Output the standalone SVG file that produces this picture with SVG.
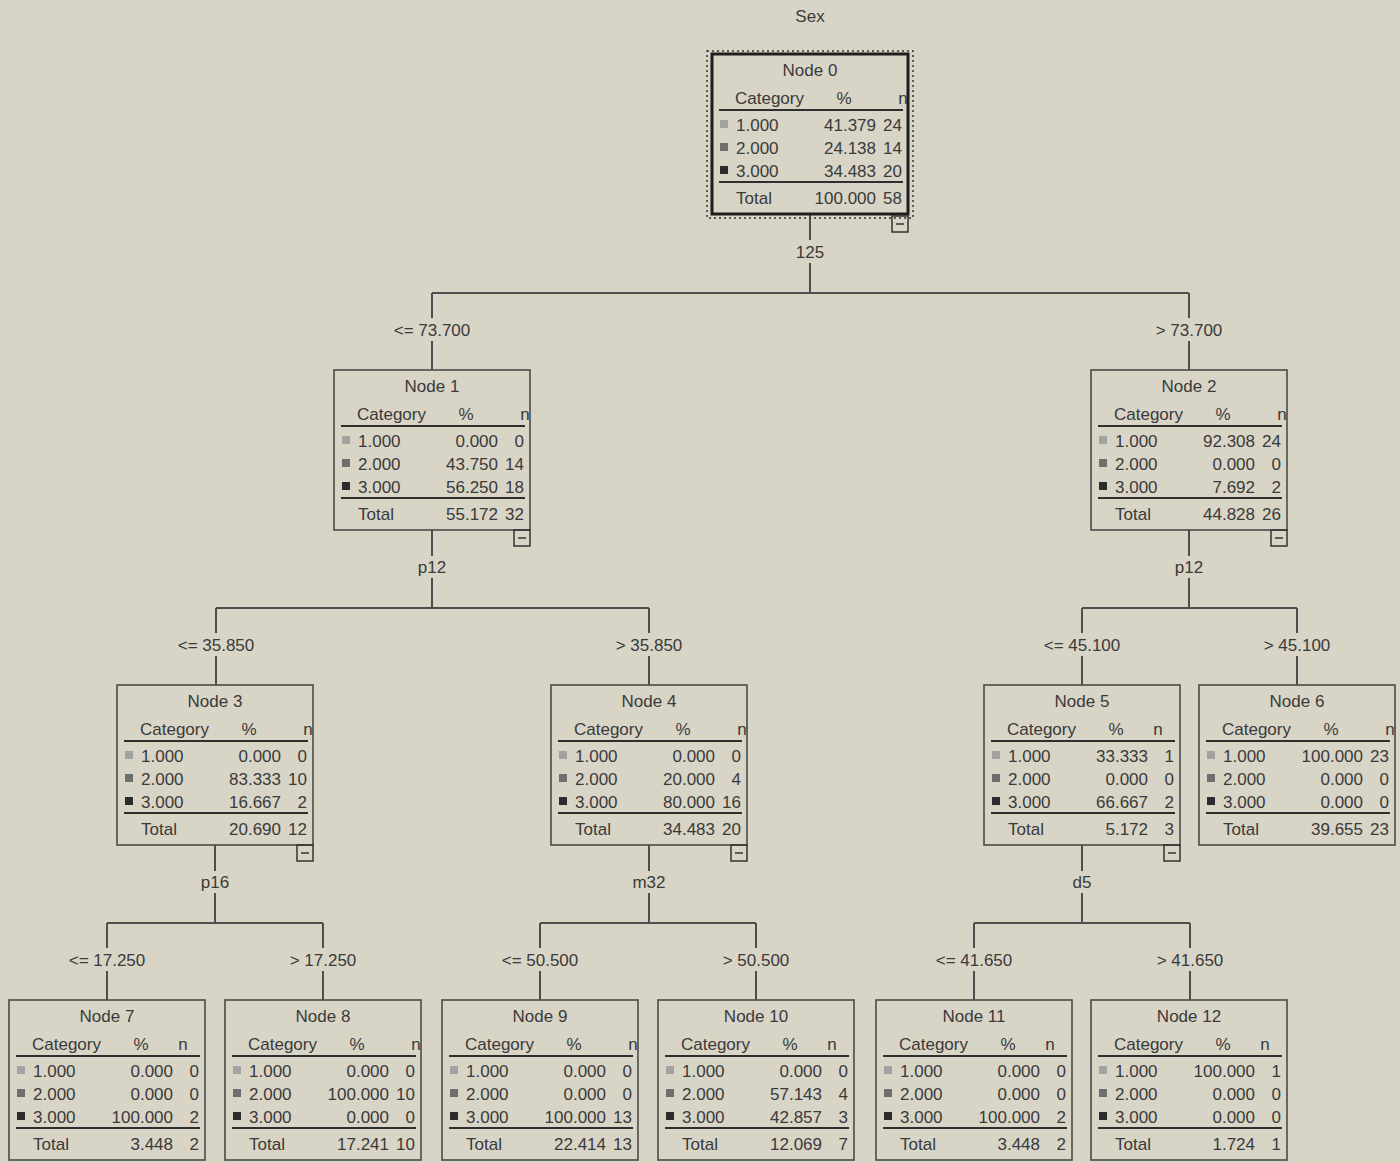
<svg xmlns="http://www.w3.org/2000/svg" width="1400" height="1163" viewBox="0 0 1400 1163">
<style>
.bg{fill:#d8d4c6}
.t{font-family:"Liberation Sans",Arial,sans-serif;font-size:17px;fill:#3a3a3a}
.m{text-anchor:middle}
.e{text-anchor:end}
.box{fill:none;stroke:#4a4a4a;stroke-width:1.6}
.box0{fill:none;stroke:#1e1e1e;stroke-width:3}
.sel{fill:none;stroke:#333;stroke-width:1.5;stroke-dasharray:2 3}
.hl{stroke:#2e2e2e;stroke-width:2}
.c1{fill:#a2a2a2}
.c2{fill:#6e6e6e}
.c3{fill:#2c2c2c}
.edge{stroke:#4e4e4e;stroke-width:2;fill:none}
.tg{fill:none;stroke:#333;stroke-width:1.5}
</style>
<defs>
<g id="frame">
<line class="hl" x1="7" y1="56" x2="191" y2="56"/>
<line class="hl" x1="7" y1="128" x2="191" y2="128"/>
<rect class="c1" x="8" y="66" width="8" height="8"/>
<rect class="c2" x="8" y="89" width="8" height="8"/>
<rect class="c3" x="8" y="112" width="8" height="8"/>
<text class="t" x="23" y="50">Category</text>
<text class="t m" x="132" y="50">%</text>
<text class="t" x="24" y="77">1.000</text>
<text class="t" x="24" y="100">2.000</text>
<text class="t" x="24" y="123">3.000</text>
<text class="t" x="24" y="150">Total</text>
</g>
<g id="toggle">
<rect class="tg" x="0" y="0" width="16" height="16"/>
<line class="tg" x1="4" y1="8" x2="12" y2="8"/>
</g>
</defs>
<rect class="bg" x="0" y="0" width="1400" height="1163"/>
<text class="t m" x="810" y="22">Sex</text>

<g id="connectors">
<path class="edge" d="M810 214V240M810 263V293M432 293H1189M432 293V318M432 341V370M1189 293V318M1189 341V370"/>
<path class="edge" d="M432 530V556M432 578V608M216 608H649M216 608V633M216 656V685M649 608V633M649 656V685"/>
<path class="edge" d="M1189 530V556M1189 578V608M1082 608H1297M1082 608V633M1082 656V685M1297 608V633M1297 656V685"/>
<path class="edge" d="M215 845V871M215 893V923M107 923H323M107 923V948M107 971V1000M323 923V948M323 971V1000"/>
<path class="edge" d="M649 845V871M649 893V923M540 923H756M540 923V948M540 971V1000M756 923V948M756 971V1000"/>
<path class="edge" d="M1082 845V871M1082 893V923M974 923H1190M974 923V948M974 971V1000M1190 923V948M1190 971V1000"/>
<text class="t m" x="810" y="258">125</text>
<text class="t m" x="432" y="336">&lt;= 73.700</text>
<text class="t m" x="1189" y="336">&gt; 73.700</text>
<text class="t m" x="432" y="573">p12</text>
<text class="t m" x="1189" y="573">p12</text>
<text class="t m" x="216" y="651">&lt;= 35.850</text>
<text class="t m" x="649" y="651">&gt; 35.850</text>
<text class="t m" x="1082" y="651">&lt;= 45.100</text>
<text class="t m" x="1297" y="651">&gt; 45.100</text>
<text class="t m" x="215" y="888">p16</text>
<text class="t m" x="649" y="888">m32</text>
<text class="t m" x="1082" y="888">d5</text>
<text class="t m" x="107" y="966">&lt;= 17.250</text>
<text class="t m" x="323" y="966">&gt; 17.250</text>
<text class="t m" x="540" y="966">&lt;= 50.500</text>
<text class="t m" x="756" y="966">&gt; 50.500</text>
<text class="t m" x="974" y="966">&lt;= 41.650</text>
<text class="t m" x="1190" y="966">&gt; 41.650</text>
</g>

<g id="node0" transform="translate(712,54)">
<rect class="sel" x="-5" y="-3" width="206" height="167"/>
<rect class="box0" x="0" y="0" width="196" height="160"/>
<use href="#frame"/>
<text class="t m" x="98" y="22">Node 0</text>
<text class="t m" x="191" y="50">n</text>
<text class="t e" x="164" y="77">41.379</text><text class="t e" x="190" y="77">24</text>
<text class="t e" x="164" y="100">24.138</text><text class="t e" x="190" y="100">14</text>
<text class="t e" x="164" y="123">34.483</text><text class="t e" x="190" y="123">20</text>
<text class="t e" x="164" y="150">100.000</text><text class="t e" x="190" y="150">58</text>
<use href="#toggle" x="180" y="162"/>
</g>

<g id="node1" transform="translate(334,370)">
<rect class="box" x="0" y="0" width="196" height="160"/>
<use href="#frame"/>
<text class="t m" x="98" y="22">Node 1</text>
<text class="t m" x="191" y="50">n</text>
<text class="t e" x="164" y="77">0.000</text><text class="t e" x="190" y="77">0</text>
<text class="t e" x="164" y="100">43.750</text><text class="t e" x="190" y="100">14</text>
<text class="t e" x="164" y="123">56.250</text><text class="t e" x="190" y="123">18</text>
<text class="t e" x="164" y="150">55.172</text><text class="t e" x="190" y="150">32</text>
<use href="#toggle" x="180" y="160"/>
</g>

<g id="node2" transform="translate(1091,370)">
<rect class="box" x="0" y="0" width="196" height="160"/>
<use href="#frame"/>
<text class="t m" x="98" y="22">Node 2</text>
<text class="t m" x="191" y="50">n</text>
<text class="t e" x="164" y="77">92.308</text><text class="t e" x="190" y="77">24</text>
<text class="t e" x="164" y="100">0.000</text><text class="t e" x="190" y="100">0</text>
<text class="t e" x="164" y="123">7.692</text><text class="t e" x="190" y="123">2</text>
<text class="t e" x="164" y="150">44.828</text><text class="t e" x="190" y="150">26</text>
<use href="#toggle" x="180" y="160"/>
</g>

<g id="node3" transform="translate(117,685)">
<rect class="box" x="0" y="0" width="196" height="160"/>
<use href="#frame"/>
<text class="t m" x="98" y="22">Node 3</text>
<text class="t m" x="191" y="50">n</text>
<text class="t e" x="164" y="77">0.000</text><text class="t e" x="190" y="77">0</text>
<text class="t e" x="164" y="100">83.333</text><text class="t e" x="190" y="100">10</text>
<text class="t e" x="164" y="123">16.667</text><text class="t e" x="190" y="123">2</text>
<text class="t e" x="164" y="150">20.690</text><text class="t e" x="190" y="150">12</text>
<use href="#toggle" x="180" y="160"/>
</g>

<g id="node4" transform="translate(551,685)">
<rect class="box" x="0" y="0" width="196" height="160"/>
<use href="#frame"/>
<text class="t m" x="98" y="22">Node 4</text>
<text class="t m" x="191" y="50">n</text>
<text class="t e" x="164" y="77">0.000</text><text class="t e" x="190" y="77">0</text>
<text class="t e" x="164" y="100">20.000</text><text class="t e" x="190" y="100">4</text>
<text class="t e" x="164" y="123">80.000</text><text class="t e" x="190" y="123">16</text>
<text class="t e" x="164" y="150">34.483</text><text class="t e" x="190" y="150">20</text>
<use href="#toggle" x="180" y="160"/>
</g>

<g id="node5" transform="translate(984,685)">
<rect class="box" x="0" y="0" width="196" height="160"/>
<use href="#frame"/>
<text class="t m" x="98" y="22">Node 5</text>
<text class="t m" x="174" y="50">n</text>
<text class="t e" x="164" y="77">33.333</text><text class="t e" x="190" y="77">1</text>
<text class="t e" x="164" y="100">0.000</text><text class="t e" x="190" y="100">0</text>
<text class="t e" x="164" y="123">66.667</text><text class="t e" x="190" y="123">2</text>
<text class="t e" x="164" y="150">5.172</text><text class="t e" x="190" y="150">3</text>
<use href="#toggle" x="180" y="160"/>
</g>

<g id="node6" transform="translate(1199,685)">
<rect class="box" x="0" y="0" width="196" height="160"/>
<use href="#frame"/>
<text class="t m" x="98" y="22">Node 6</text>
<text class="t m" x="191" y="50">n</text>
<text class="t e" x="164" y="77">100.000</text><text class="t e" x="190" y="77">23</text>
<text class="t e" x="164" y="100">0.000</text><text class="t e" x="190" y="100">0</text>
<text class="t e" x="164" y="123">0.000</text><text class="t e" x="190" y="123">0</text>
<text class="t e" x="164" y="150">39.655</text><text class="t e" x="190" y="150">23</text>
</g>

<g id="node7" transform="translate(9,1000)">
<rect class="box" x="0" y="0" width="196" height="160"/>
<use href="#frame"/>
<text class="t m" x="98" y="22">Node 7</text>
<text class="t m" x="174" y="50">n</text>
<text class="t e" x="164" y="77">0.000</text><text class="t e" x="190" y="77">0</text>
<text class="t e" x="164" y="100">0.000</text><text class="t e" x="190" y="100">0</text>
<text class="t e" x="164" y="123">100.000</text><text class="t e" x="190" y="123">2</text>
<text class="t e" x="164" y="150">3.448</text><text class="t e" x="190" y="150">2</text>
</g>

<g id="node8" transform="translate(225,1000)">
<rect class="box" x="0" y="0" width="196" height="160"/>
<use href="#frame"/>
<text class="t m" x="98" y="22">Node 8</text>
<text class="t m" x="191" y="50">n</text>
<text class="t e" x="164" y="77">0.000</text><text class="t e" x="190" y="77">0</text>
<text class="t e" x="164" y="100">100.000</text><text class="t e" x="190" y="100">10</text>
<text class="t e" x="164" y="123">0.000</text><text class="t e" x="190" y="123">0</text>
<text class="t e" x="164" y="150">17.241</text><text class="t e" x="190" y="150">10</text>
</g>

<g id="node9" transform="translate(442,1000)">
<rect class="box" x="0" y="0" width="196" height="160"/>
<use href="#frame"/>
<text class="t m" x="98" y="22">Node 9</text>
<text class="t m" x="191" y="50">n</text>
<text class="t e" x="164" y="77">0.000</text><text class="t e" x="190" y="77">0</text>
<text class="t e" x="164" y="100">0.000</text><text class="t e" x="190" y="100">0</text>
<text class="t e" x="164" y="123">100.000</text><text class="t e" x="190" y="123">13</text>
<text class="t e" x="164" y="150">22.414</text><text class="t e" x="190" y="150">13</text>
</g>

<g id="node10" transform="translate(658,1000)">
<rect class="box" x="0" y="0" width="196" height="160"/>
<use href="#frame"/>
<text class="t m" x="98" y="22">Node 10</text>
<text class="t m" x="174" y="50">n</text>
<text class="t e" x="164" y="77">0.000</text><text class="t e" x="190" y="77">0</text>
<text class="t e" x="164" y="100">57.143</text><text class="t e" x="190" y="100">4</text>
<text class="t e" x="164" y="123">42.857</text><text class="t e" x="190" y="123">3</text>
<text class="t e" x="164" y="150">12.069</text><text class="t e" x="190" y="150">7</text>
</g>

<g id="node11" transform="translate(876,1000)">
<rect class="box" x="0" y="0" width="196" height="160"/>
<use href="#frame"/>
<text class="t m" x="98" y="22">Node 11</text>
<text class="t m" x="174" y="50">n</text>
<text class="t e" x="164" y="77">0.000</text><text class="t e" x="190" y="77">0</text>
<text class="t e" x="164" y="100">0.000</text><text class="t e" x="190" y="100">0</text>
<text class="t e" x="164" y="123">100.000</text><text class="t e" x="190" y="123">2</text>
<text class="t e" x="164" y="150">3.448</text><text class="t e" x="190" y="150">2</text>
</g>

<g id="node12" transform="translate(1091,1000)">
<rect class="box" x="0" y="0" width="196" height="160"/>
<use href="#frame"/>
<text class="t m" x="98" y="22">Node 12</text>
<text class="t m" x="174" y="50">n</text>
<text class="t e" x="164" y="77">100.000</text><text class="t e" x="190" y="77">1</text>
<text class="t e" x="164" y="100">0.000</text><text class="t e" x="190" y="100">0</text>
<text class="t e" x="164" y="123">0.000</text><text class="t e" x="190" y="123">0</text>
<text class="t e" x="164" y="150">1.724</text><text class="t e" x="190" y="150">1</text>
</g>
</svg>
